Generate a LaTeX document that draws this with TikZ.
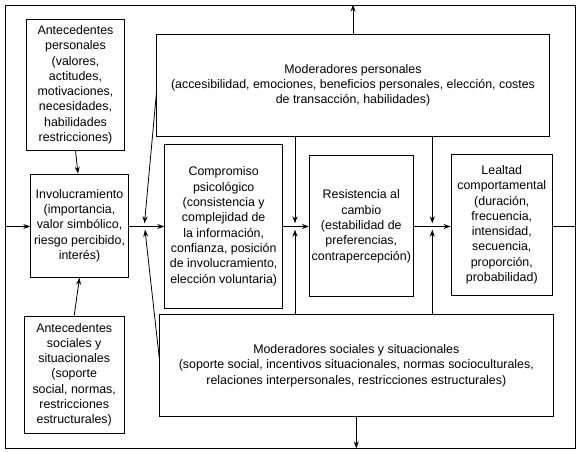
\documentclass[tikz,border=0pt]{standalone}
\usepackage{fontspec}
\setmainfont{Liberation Sans}
\usetikzlibrary{arrows.meta}
\begin{document}
\begin{tikzpicture}[x=1bp,y=-1bp,
  box/.style={draw, line width=0.8bp, inner sep=0pt, align=center,
    font=\fontsize{12.4bp}{15.3bp}\selectfont},
  arr/.style={line width=0.8bp, -{Stealth[length=7bp,width=5bp]}},
  ln/.style={line width=0.8bp}]
\useasboundingbox (0,0) rectangle (582,452);
\node[box, minimum width=570bp, minimum height=443bp] (frame) at (290,226.5) {};
\node[box, minimum width=97.6bp, minimum height=131bp] (ap) at (75.5,84.8)
  {Antecedentes\\personales\\(valores,\\actitudes,\\motivaciones,\\necesidades,\\habilidades\\restricciones)};
\node[box, minimum width=97.6bp, minimum height=103.3bp] (inv) at (79.5,225.7)
  {Involucramiento\\(importancia,\\valor simbólico,\\riesgo percibido,\\interés)};
\node[box, minimum width=99.7bp, minimum height=117.3bp] (as) at (74.2,374.7)
  {Antecedentes\\sociales y\\situacionales\\(soporte\\social, normas,\\restricciones\\estructurales)};
\node[box, minimum width=392.6bp, minimum height=101.7bp] (mp) at (353,85.2)
  {Moderadores personales\\(accesibilidad, emociones, beneficios personales, elección, costes\\de transacción, habilidades)};
\node[box, minimum width=118bp, minimum height=164bp] (comp) at (223.7,226.3)
  {Compromiso\\psicológico\\(consistencia y\\complejidad de\\la información,\\confianza, posición\\de involucramiento,\\elección voluntaria)};
\node[box, minimum width=104bp, minimum height=141bp] (res) at (361.3,226.2)
  {Resistencia al\\cambio\\(estabilidad de\\preferencias,\\contrapercepción)};
\node[box, minimum width=101.7bp, minimum height=140.3bp] (leal) at (501.8,224.8)
  {Lealtad\\comportamental\\(duración,\\frecuencia,\\intensidad,\\secuencia,\\proporción,\\probabilidad)};
\node[box, minimum width=394bp, minimum height=102.4bp] (ms) at (356.3,365.5)
  {Moderadores sociales y situacionales\\(soporte social, incentivos situacionales, normas socioculturales,\\relaciones interpersonales, restricciones estructurales)};
% free ends
\coordinate (t1) at (144.5,223.3);
\coordinate (b1) at (145,229.7);
\coordinate (t2) at (295,223.3);
\coordinate (b2) at (295,229.7);
\coordinate (t3) at (432.3,223.3);
\coordinate (b3) at (432.3,229.7);
\coordinate (mps) at (156.7,90);
\coordinate (mss) at (159.3,358.3);
% main line
\draw[arr] (frame.west) -- (inv.west |- frame.west);
\draw[arr] (inv.east |- frame.west) -- (comp.west |- frame.west);
\draw[arr] (comp.east |- frame.west) -- (res.west |- frame.west);
\draw[arr] (res.east |- frame.west) -- (leal.west |- frame.west);
\draw[ln] (leal.east |- frame.west) -- (frame.east);
% feedback outputs
\draw[arr] (mp.north) -- (mp.north |- frame.north);
\draw[arr] (ms.south) -- (ms.south |- frame.south);
% antecedents
\draw[arr] (ap.south) -- ([xshift=-1.5bp]inv.north);
\draw[arr] (as.north) -- (inv.south);
% moderators
\draw[arr] (mps) -- (t1);
\draw[arr] (mss) -- (b1);
\draw[arr] (mp.south -| t2) -- (t2);
\draw[arr] (mp.south -| t3) -- (t3);
\draw[arr] (ms.north -| b2) -- (b2);
\draw[arr] (ms.north -| b3) -- (b3);
\end{tikzpicture}
\end{document}
